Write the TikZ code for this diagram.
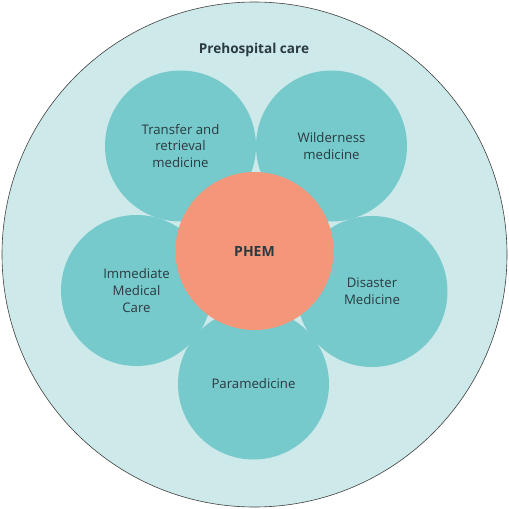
\documentclass[tikz,border=0pt]{standalone}
\usepackage{fontspec}
\setmainfont{Open Sans}
\definecolor{outerfill}{HTML}{CDE9EA}
\definecolor{petalfill}{HTML}{76CACC}
\definecolor{coreFill}{HTML}{F4967A}
\definecolor{txt}{HTML}{2B3A40}
\begin{document}
\begin{tikzpicture}[x=1pt,y=-1pt,
  petal/.style={circle,fill=petalfill,minimum size=151pt,inner sep=0pt,align=center,text=txt,font=\fontsize{13.2}{16.6}\selectfont},
  core/.style={circle,fill=coreFill,minimum size=158pt,inner sep=0pt,text=txt,font=\fontsize{14}{16.5}\selectfont\bfseries}]
\useasboundingbox (0,0) rectangle (509,509);
\node[circle,draw=black!75,line width=0.6pt,fill=outerfill,minimum size=505pt,inner sep=0pt] (outer) at (254.5,254.5) {};
\node[text=txt,font=\fontsize{13.6}{15}\selectfont\bfseries] (title) at (254,50) {Prehospital care};
\node[petal] (transfer) at (180.5,146) {Transfer and\\retrieval\\medicine};
\node[petal] (wild) at (331.5,146) {Wilderness\\medicine};
\node[petal] (imm) at (136.5,290.5) {Immediate\\Medical\\Care};
\node[petal] (dis) at (372,291.5) {Disaster\\Medicine};
\node[petal] (para) at (253.5,384) {Paramedicine};
\node[core] (phem) at (254.5,251) {PHEM};
\end{tikzpicture}
\end{document}
